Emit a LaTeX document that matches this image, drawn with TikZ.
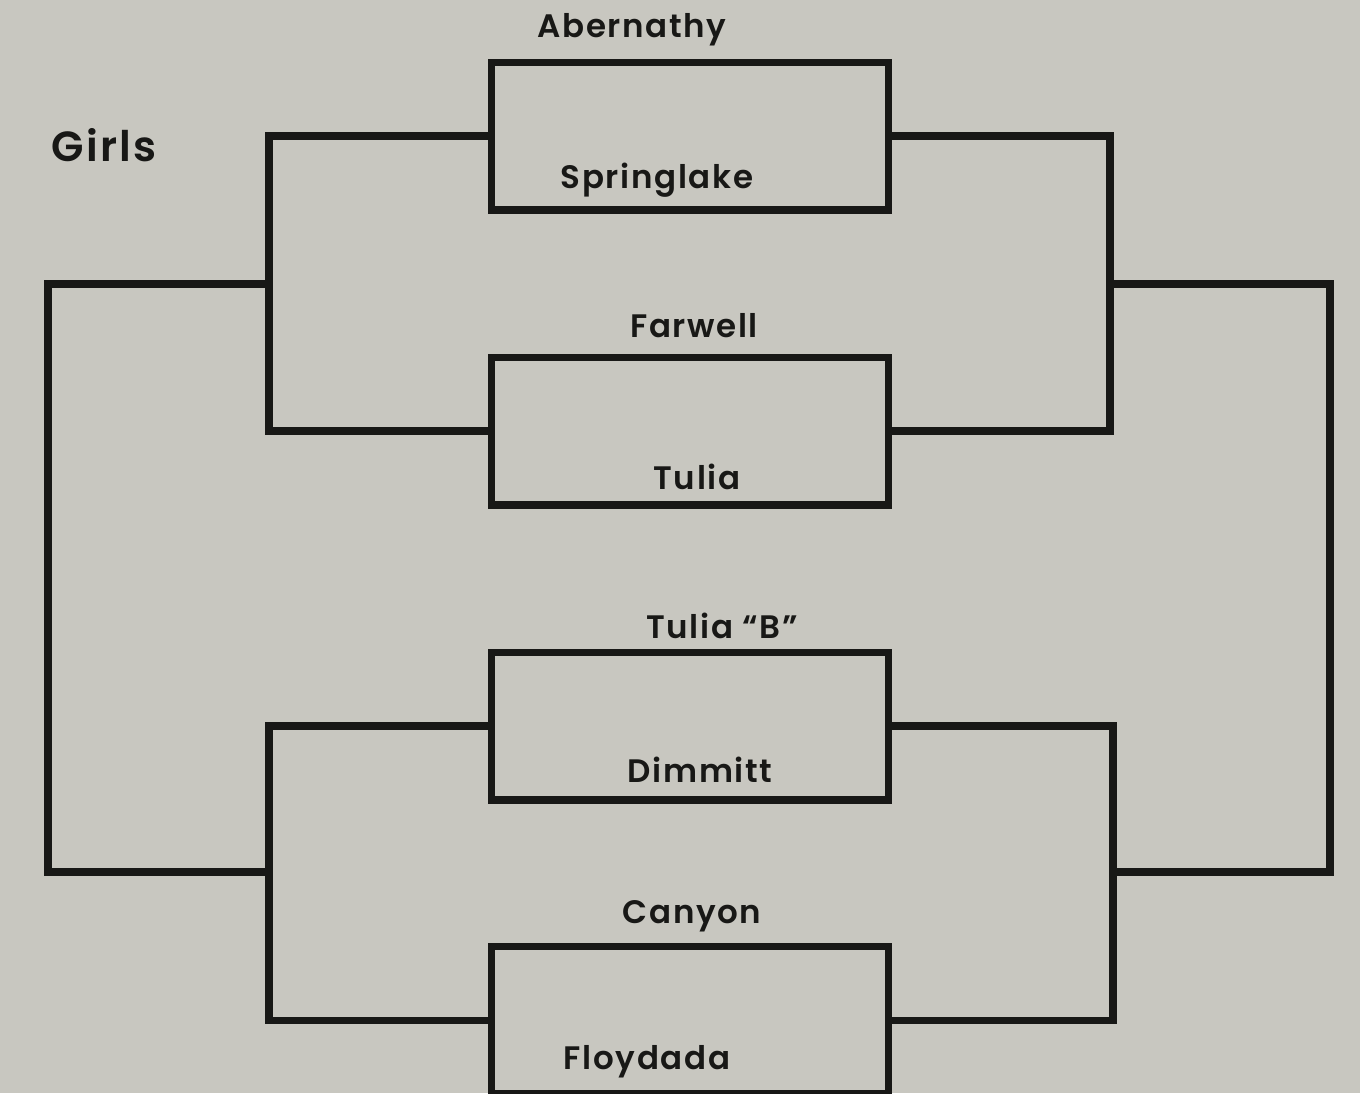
\documentclass[tikz,border=0pt]{standalone}
\usepackage{fontspec}
\setmainfont{Poppins}[UprightFont=* SemiBold,LetterSpace=5]
\usetikzlibrary{positioning}
\definecolor{paper}{RGB}{200,199,192}
\definecolor{ink}{RGB}{24,24,22}
\tikzset{
	game/.style={draw=ink,line width=4pt,minimum width=7.96cm,minimum height=2.96cm,inner sep=0pt},
	team/.style={text=ink,font=\fontsize{18.5}{20}\selectfont,inner sep=0pt},
	tie/.style={draw=ink,line width=4pt,line join=miter}
}
\begin{document}
\begin{tikzpicture}[x=0.02cm,y=-0.02cm]
			\fill[paper] (0,0) rectangle (1360,1093);
			\useasboundingbox (0,0) rectangle (1360,1093);
			
			\node[team,font=\fontsize{24}{26}\selectfont] (girls) at (104,145) {Girls};
			
			\node[game] (g1) at (690,136) {}; \node[team] (t1) at (632,30) {Abernathy}; \node[team] (t2) at (657,180) {Springlake};
			\node[game] (g2) at (690,431) {}; \node[team] (t3) at (694,326) {Farwell}; \node[team] (t4) at (697,477) {Tulia};
			\node[game] (g3) at (690,726) {}; \node[team] (t5) at (722,626) {Tulia ``B''}; \node[team] (t6) at (700,770) {Dimmitt};
			\node[game] (g4) at (690,1020) {}; \node[team] (t7) at (692,916) {Canyon}; \node[team] (t8) at (647,1062) {Floydada};
			
			% left side
			\coordinate (lu) at (269,284); \coordinate (ll) at (269,872); \coordinate (lo) at (48,578);
			\draw[tie] (g1.west) -| (lu) |- (g2.west);
			\draw[tie] (g3.west) -| (ll) |- (g4.west);
			\draw[tie] (lu) -| (lo) |- (ll);
			
			% right side
			\coordinate (ru) at (1110,284); \coordinate (rl) at (1113,872); \coordinate (ro) at (1330,578);
			\draw[tie] (g1.east) -| (ru) |- (g2.east);
			\draw[tie] (g3.east) -| (rl) |- (g4.east);
			\draw[tie] (ru) -| (ro) |- (rl);
\end{tikzpicture}
\end{document}
